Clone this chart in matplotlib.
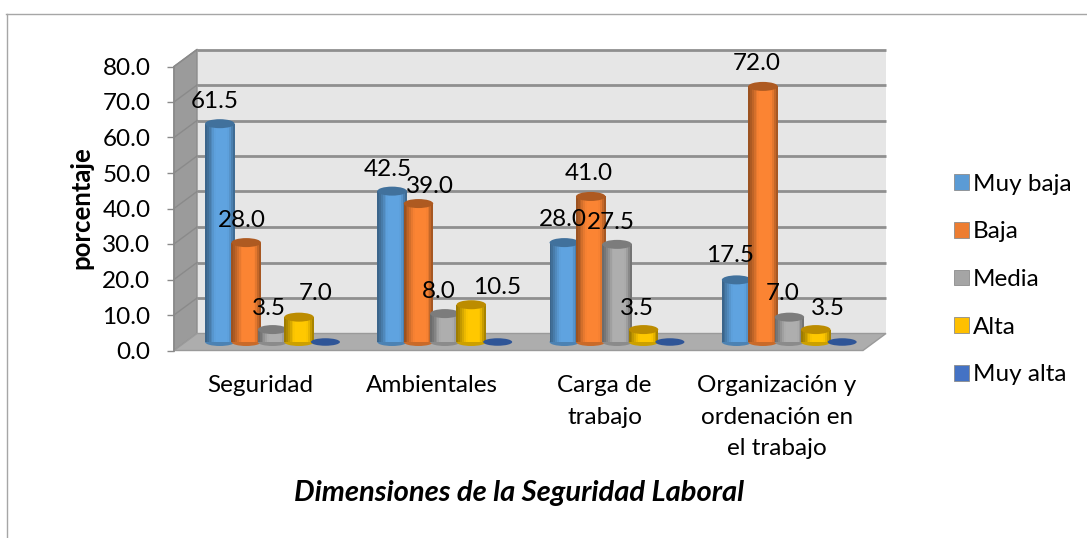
import matplotlib
matplotlib.use("Agg")
import matplotlib.pyplot as plt
import numpy as np
from matplotlib.colors import to_rgb
from matplotlib.lines import Line2D
from matplotlib.patches import Ellipse, Patch, Polygon, Rectangle

categories = ["Seguridad", "Ambientales", "Carga de\ntrabajo", "Organización y\nordenación en\nel trabajo"]
series_names = ["Muy baja", "Baja", "Media", "Alta", "Muy alta"]
muy_baja = [61.5, 42.5, 28.0, 17.5]
baja = [28.0, 39.0, 41.0, 72.0]
media = [3.5, 8.0, 27.5, 7.0]
alta = [7.0, 10.5, 3.5, 3.5]
muy_alta = [0, 0, 0, 0]
yticks = [0, 10, 20, 30, 40, 50, 60, 70, 80]

colors = ["#5b9bd5", "#ed7d31", "#a5a5a5", "#ffc000", "#4472c4"]
body_colors = ["#5fa3e0", "#fb8433", "#aeaeae", "#ffc800"]
top_colors = ["#41719c", "#ae5a21", "#7c7c7c", "#bc8c00"]

# label offsets from the top of each cylinder, in pixels (x, y)
label_offsets = [
    [(-5, 22), (-4, 22), (-4, 21), (17, 24)],
    [(-4, 22), (11, 17), (-6, 22), (26, 17)],
    [(-1, 23), (-2, 23), (-6, 22), (-7, 21)],
    [(-7, 24), (-6, 23), (-7, 24), (12, 21)],
]

plt.rcParams["font.family"] = ["Lato", "DejaVu Sans"]

W, H = 1087, 538
fig = plt.figure(figsize=(W / 100, H / 100), dpi=100)
ax = fig.add_axes([174 / W, 1 - 350.5 / H, 689 / W, 284 / H])
ax.set_xlim(0, 4)
ax.set_ylim(0, 80)
ax.patch.set_visible(False)

# data units per pixel
px = 4 / 689
py = 80 / 284

# outer frame of the picture
fig.add_artist(Line2D([6 / W, 1], [1 - 13.5 / H, 1 - 13.5 / H], color="#a6a6a6", lw=1))
fig.add_artist(Line2D([6.5 / W, 6.5 / W], [0, 1 - 13.5 / H], color="#a6a6a6", lw=1))

# 3D box: walls, floor
wall_x = 23 * px
wall_y = 17 * py
ax.add_patch(Rectangle((wall_x, wall_y), 4, 80, fc="#e6e6e6", ec="none", zorder=1, clip_on=False))
ax.add_patch(Polygon([(0, 0), (wall_x, wall_y), (wall_x, 80 + wall_y), (0, 80)],
                     fc="#9b9b9b", ec="#8c8c8c", lw=1, zorder=1, clip_on=False))
ax.add_patch(Polygon([(0, 0), (wall_x, wall_y), (4 + wall_x, wall_y), (4, 0)],
                     fc="#adadad", ec="#9a9a9a", lw=1, zorder=2, clip_on=False))
for t in yticks[1:]:
    ax.plot([wall_x, 4 + wall_x], [t + wall_y, t + wall_y], color="#8f8f8f", lw=2, zorder=1.5,
            clip_on=False, solid_capstyle="butt")
    ax.plot([0, wall_x], [t, t + wall_y], color="#8a8a8a", lw=1, zorder=1.5, clip_on=False)

# cylinders
values = [muy_baja, baja, media, alta, muy_alta]
base = 8.5 * py
shade = np.array([0.62, 0.68, 0.76, 0.84, 0.92, 0.98, 1, 1, 1, 1, 1, 1, 0.98, 0.9, 0.78, 0.66])
z = 3
for c in range(len(categories)):
    for s, vals in enumerate(values):
        x = c + 0.5 + (12.5 + (s - 2) * 26.4) * px
        v = vals[c]
        z += 1
        if v == 0:
            ax.add_patch(Ellipse((x, base), 29 * px, 7.5 * py, fc="#2f5597", ec="none", zorder=z, clip_on=False))
            continue
        width = 29.5 * px
        rgb = np.array(to_rgb(body_colors[s]))
        ax.add_patch(Ellipse((x, base), width, 8 * py, fc=rgb * 0.8, ec="none", zorder=z, clip_on=False))
        strip = width / len(shade)
        for k, f in enumerate(shade):
            ax.bar(x - width / 2 + (k + 0.5) * strip, v, strip * 1.05, bottom=base,
                   color=rgb * f, zorder=z, clip_on=False)
        ax.add_patch(Ellipse((x, base + v), width, 9 * py, fc=top_colors[s], ec="none", zorder=z, clip_on=False))

# data labels
for c in range(len(categories)):
    for s, vals in enumerate(values[:4]):
        x = c + 0.5 + (12.5 + (s - 2) * 26.4) * px
        ax.annotate(f"{vals[c]:.1f}", (x, base + vals[c]), xytext=label_offsets[c][s],
                    textcoords="offset pixels", ha="center", va="center", fontsize=17.5,
                    color="black", zorder=100, annotation_clip=False)

# axes
for name in ["top", "right", "left", "bottom"]:
    ax.spines[name].set_visible(False)
ax.plot([0, 0], [0, 80], color="#8a8a8a", lw=1.2, zorder=2, clip_on=False)
ax.set_yticks(yticks)
ax.set_yticklabels([f"{t:.1f}" for t in yticks], fontsize=17.5)
ax.tick_params(axis="y", length=5, color="#8a8a8a", width=1, pad=12)
ax.set_xticks(np.arange(4) + 0.5)
ax.set_xticklabels(categories, fontsize=17.5, linespacing=1.6)
ax.tick_params(axis="x", length=0, pad=18)

fig.text(81 / W, 1 - 208 / H, "porcentaje", rotation=90, ha="center", va="center",
         fontsize=18.5, fontweight="bold")
fig.text(519 / W, 1 - 493 / H, "Dimensiones de la Seguridad Laboral", ha="center", va="center",
         fontsize=21, fontweight="bold", fontstyle="italic")

handles = [Patch(facecolor=col, edgecolor="#8c8c8c", lw=0.6) for col in colors]
fig.legend(handles, series_names, loc="center left", bbox_to_anchor=(954 / W, 1 - 279.5 / H),
           frameon=False, fontsize=17.5, handlelength=0.62, handleheight=0.62, handletextpad=0.15,
           labelspacing=1.1, borderpad=0, borderaxespad=0)

fig.savefig("out.png", dpi=100)
